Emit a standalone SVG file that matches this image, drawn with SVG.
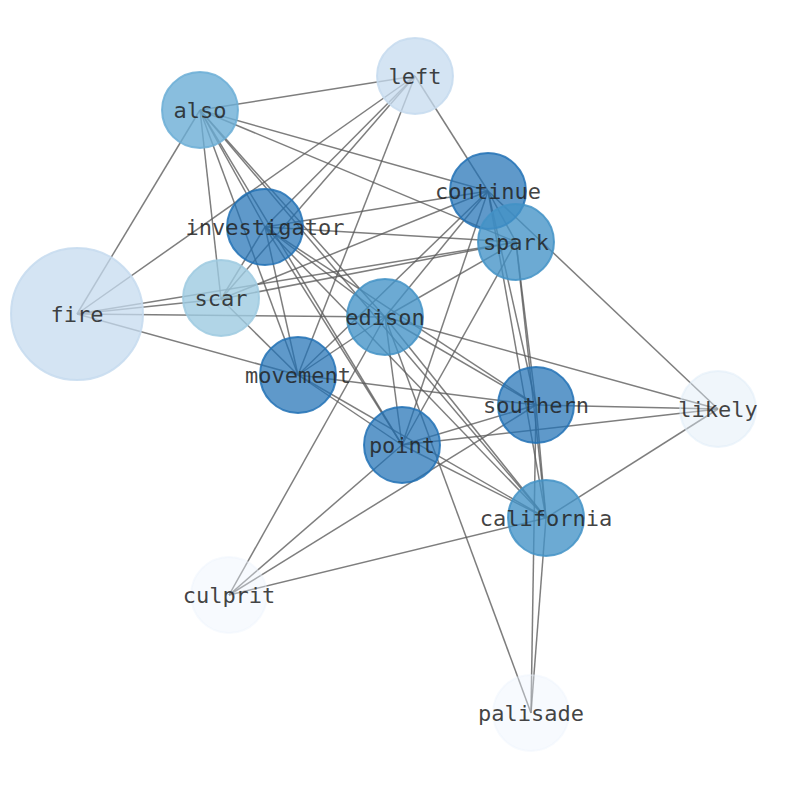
<svg xmlns="http://www.w3.org/2000/svg" width="794" height="790" viewBox="0 0 794 790">
<style>
.e line{stroke:#5a5a5a;stroke-opacity:0.78;stroke-width:1.5}
.n circle{stroke-width:2}
.n text{font-family:"DejaVu Sans Mono","Liberation Mono",monospace;font-size:22px;fill:#222;fill-opacity:0.85;text-anchor:middle;dominant-baseline:central}
.c1{fill:#2171b5;fill-opacity:0.72;stroke:#2171b5;stroke-opacity:0.85}
.c2{fill:#4292c6;fill-opacity:0.78;stroke:#4292c6;stroke-opacity:0.85}
.c3{fill:#6baed6;fill-opacity:0.8;stroke:#6baed6;stroke-opacity:0.85}
.c4{fill:#9ecae1;fill-opacity:0.8;stroke:#9ecae1;stroke-opacity:0.85}
.c5{fill:#c6dbef;fill-opacity:0.75;stroke:#c6dbef;stroke-opacity:0.85}
.c6{fill:#deebf7;fill-opacity:0.45;stroke:#deebf7;stroke-opacity:0.5}
.c7{fill:#eaf3fc;fill-opacity:0.4;stroke:#eaf3fc;stroke-opacity:0.4}
</style>
<rect width="794" height="790" fill="#fff"/>
<g id="edges" class="e">
<line x1="415" y1="76" x2="200" y2="110"/>
<line x1="415" y1="76" x2="77" y2="314"/>
<line x1="415" y1="76" x2="221" y2="299"/>
<line x1="415" y1="76" x2="265" y2="227"/>
<line x1="415" y1="76" x2="298" y2="375"/>
<line x1="415" y1="76" x2="488" y2="191"/>
<line x1="200" y1="110" x2="77" y2="314"/>
<line x1="200" y1="110" x2="221" y2="299"/>
<line x1="200" y1="110" x2="265" y2="227"/>
<line x1="200" y1="110" x2="298" y2="375"/>
<line x1="200" y1="110" x2="488" y2="191"/>
<line x1="200" y1="110" x2="516" y2="242"/>
<line x1="200" y1="110" x2="402" y2="445"/>
<line x1="200" y1="110" x2="546" y2="518"/>
<line x1="200" y1="110" x2="385" y2="317"/>
<line x1="77" y1="314" x2="221" y2="299"/>
<line x1="77" y1="314" x2="516" y2="242"/>
<line x1="77" y1="314" x2="385" y2="317"/>
<line x1="77" y1="314" x2="298" y2="375"/>
<line x1="221" y1="299" x2="265" y2="227"/>
<line x1="221" y1="299" x2="488" y2="191"/>
<line x1="221" y1="299" x2="516" y2="242"/>
<line x1="221" y1="299" x2="298" y2="375"/>
<line x1="265" y1="227" x2="488" y2="191"/>
<line x1="265" y1="227" x2="516" y2="242"/>
<line x1="265" y1="227" x2="385" y2="317"/>
<line x1="265" y1="227" x2="298" y2="375"/>
<line x1="265" y1="227" x2="402" y2="445"/>
<line x1="265" y1="227" x2="536" y2="405"/>
<line x1="265" y1="227" x2="546" y2="518"/>
<line x1="488" y1="191" x2="516" y2="242"/>
<line x1="488" y1="191" x2="385" y2="317"/>
<line x1="488" y1="191" x2="298" y2="375"/>
<line x1="488" y1="191" x2="402" y2="445"/>
<line x1="488" y1="191" x2="536" y2="405"/>
<line x1="488" y1="191" x2="546" y2="518"/>
<line x1="488" y1="191" x2="718" y2="409"/>
<line x1="516" y1="242" x2="385" y2="317"/>
<line x1="516" y1="242" x2="402" y2="445"/>
<line x1="516" y1="242" x2="536" y2="405"/>
<line x1="516" y1="242" x2="546" y2="518"/>
<line x1="385" y1="317" x2="298" y2="375"/>
<line x1="385" y1="317" x2="402" y2="445"/>
<line x1="385" y1="317" x2="536" y2="405"/>
<line x1="385" y1="317" x2="546" y2="518"/>
<line x1="385" y1="317" x2="718" y2="409"/>
<line x1="385" y1="317" x2="531" y2="713"/>
<line x1="385" y1="317" x2="229" y2="595"/>
<line x1="298" y1="375" x2="402" y2="445"/>
<line x1="298" y1="375" x2="536" y2="405"/>
<line x1="298" y1="375" x2="546" y2="518"/>
<line x1="536" y1="405" x2="402" y2="445"/>
<line x1="536" y1="405" x2="718" y2="409"/>
<line x1="536" y1="405" x2="546" y2="518"/>
<line x1="536" y1="405" x2="531" y2="713"/>
<line x1="536" y1="405" x2="229" y2="595"/>
<line x1="402" y1="445" x2="718" y2="409"/>
<line x1="402" y1="445" x2="546" y2="518"/>
<line x1="402" y1="445" x2="229" y2="595"/>
<line x1="546" y1="518" x2="718" y2="409"/>
<line x1="546" y1="518" x2="531" y2="713"/>
<line x1="546" y1="518" x2="229" y2="595"/>
</g>
<g id="left" class="n"><circle class="c5" cx="415" cy="76" r="38"/><text x="415" y="76">left</text></g>
<g id="also" class="n"><circle class="c3" cx="200" cy="110" r="38"/><text x="200" y="110">also</text></g>
<g id="fire" class="n"><circle class="c5" cx="77" cy="314" r="66"/><text x="77" y="314">fire</text></g>
<g id="scar" class="n"><circle class="c4" cx="221" cy="298" r="38"/><text x="221" y="298">scar</text></g>
<g id="investigator" class="n"><circle class="c1" cx="265" cy="227" r="38"/><text x="265" y="227">investigator</text></g>
<g id="continue" class="n"><circle class="c1" cx="488" cy="191" r="38"/><text x="488" y="191">continue</text></g>
<g id="spark" class="n"><circle class="c2" cx="516" cy="242" r="38"/><text x="516" y="242">spark</text></g>
<g id="edison" class="n"><circle class="c2" cx="385" cy="317" r="38"/><text x="385" y="317">edison</text></g>
<g id="movement" class="n"><circle class="c1" cx="298" cy="375" r="38"/><text x="298" y="375">movement</text></g>
<g id="southern" class="n"><circle class="c1" cx="536" cy="405" r="38"/><text x="536" y="405">southern</text></g>
<g id="likely" class="n"><circle class="c6" cx="718" cy="409" r="38"/><text x="718" y="409">likely</text></g>
<g id="point" class="n"><circle class="c1" cx="402" cy="445" r="38"/><text x="402" y="445">point</text></g>
<g id="california" class="n"><circle class="c2" cx="546" cy="518" r="38"/><text x="546" y="518">california</text></g>
<g id="culprit" class="n"><circle class="c7" cx="229" cy="595" r="38"/><text x="229" y="595">culprit</text></g>
<g id="palisade" class="n"><circle class="c7" cx="531" cy="713" r="38"/><text x="531" y="713">palisade</text></g>
</svg>
